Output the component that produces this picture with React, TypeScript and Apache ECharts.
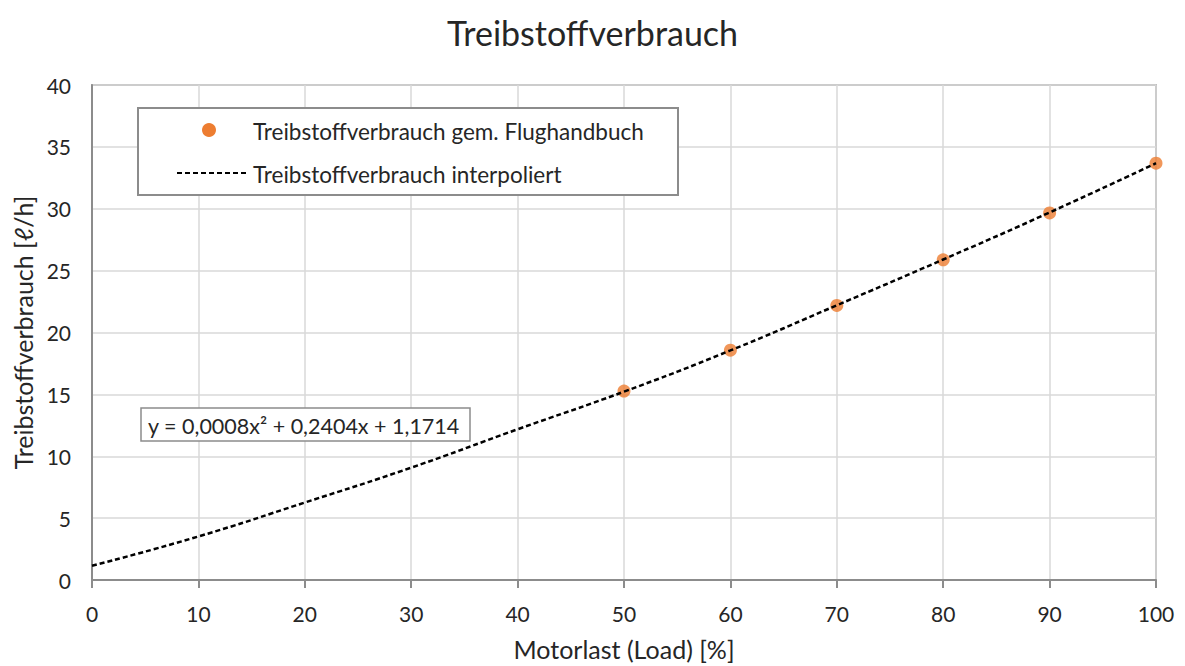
import React, { useEffect, useRef } from "react";
import * as echarts from "echarts";

const title = "Treibstoffverbrauch";
const xAxisName = "Motorlast (Load) [%]";
const yAxisName = "Treibstoffverbrauch [ℓ/h]";
const legendPoints = "Treibstoffverbrauch gem. Flughandbuch";
const legendLine = "Treibstoffverbrauch interpoliert";
const equation = "y = 0,0008x² + 0,2404x + 1,1714";

const handbookLoad = [50, 60, 70, 80, 90, 100];
const handbookFuel = [15.27, 18.57, 22.19, 25.87, 29.66, 33.68];

const curveLoad = [0, 10, 20, 30, 40, 50, 60, 70, 80, 90, 100];
const curveFuel = [1.15, 3.52, 6.26, 9.08, 12.18, 15.22, 18.55, 22.2, 25.9, 29.7, 33.68];

const FONT = "Lato, 'Open Sans', sans-serif";
const TXT = "#262626";

export default function App() {
  const ref = useRef<HTMLDivElement>(null);
  useEffect(() => {
    document.body.style.margin = "0";
    document.body.style.overflow = "hidden";
    if (!ref.current) return;
    const chart = echarts.init(ref.current, undefined, { renderer: "svg" });
    chart.setOption({
      animation: false,
      backgroundColor: "#ffffff",
      textStyle: { fontFamily: FONT },
      title: {
        text: title,
        left: "center",
        top: 10,
        textStyle: { fontFamily: FONT, fontSize: 34, fontWeight: "normal", color: TXT },
      },
      grid: {
        left: 92,
        right: 29,
        top: 85,
        bottom: 85,
        show: true,
        borderColor: "#8c8c8c",
        borderWidth: 1.5,
      },
      xAxis: {
        type: "value",
        min: 0,
        max: 100,
        interval: 10,
        name: xAxisName,
        nameLocation: "middle",
        nameGap: 56,
        nameTextStyle: { fontFamily: FONT, fontSize: 25, color: TXT },
        axisLine: { show: true, lineStyle: { color: "#8c8c8c", width: 2 } },
        axisTick: { show: true, length: 8, lineStyle: { color: "#8c8c8c", width: 2 } },
        axisLabel: { fontFamily: FONT, fontSize: 21, color: TXT, margin: 23 },
        splitLine: { show: true, lineStyle: { color: "#d9d9d9", width: 1.5 } },
      },
      yAxis: {
        type: "value",
        min: 0,
        max: 40,
        interval: 5,
        name: yAxisName,
        nameLocation: "middle",
        nameGap: 54,
        nameTextStyle: { fontFamily: FONT, fontSize: 25, color: TXT },
        axisLine: { show: true, lineStyle: { color: "#8c8c8c", width: 2 } },
        axisTick: { show: false },
        axisLabel: { fontFamily: FONT, fontSize: 21, color: TXT, margin: 21 },
        splitLine: { show: true, lineStyle: { color: "#d9d9d9", width: 1.5 } },
      },
      series: [
        {
          name: legendLine,
          type: "line",
          data: curveLoad.map((x, i) => [x, curveFuel[i]]),
          smooth: true,
          showSymbol: false,
          lineStyle: { color: "#000000", width: 2.5, type: [5, 3] },
          z: 3,
        },
        {
          name: legendPoints,
          type: "scatter",
          data: handbookLoad.map((x, i) => [x, handbookFuel[i]]),
          symbol: "circle",
          symbolSize: 13,
          itemStyle: { color: "#ed7d31" },
          z: 2,
        },
      ],
      graphic: [
        {
          type: "rect",
          shape: { x: 138, y: 108, width: 540, height: 87 },
          style: { fill: "#ffffff", stroke: "#8c8c8c", lineWidth: 2 },
          z: 10,
        },
        {
          type: "circle",
          shape: { cx: 209, cy: 130, r: 7 },
          style: { fill: "#ed7d31" },
          z: 11,
        },
        {
          type: "text",
          x: 253,
          y: 131,
          style: { text: legendPoints, font: `22.5px ${FONT}`, fill: TXT, verticalAlign: "middle" },
          z: 11,
        },
        {
          type: "line",
          shape: { x1: 177, y1: 173, x2: 246, y2: 173 },
          style: { stroke: "#000000", lineWidth: 2, lineDash: [5, 3] },
          z: 11,
        },
        {
          type: "text",
          x: 253,
          y: 174,
          style: { text: legendLine, font: `22.5px ${FONT}`, fill: TXT, verticalAlign: "middle" },
          z: 11,
        },
        {
          type: "rect",
          shape: { x: 141, y: 408, width: 329, height: 33 },
          style: { fill: "#ffffff", stroke: "#8c8c8c", lineWidth: 1.5 },
          z: 10,
        },
        {
          type: "text",
          x: 148,
          y: 426,
          style: { text: equation, font: `21.5px ${FONT}`, fill: TXT, verticalAlign: "middle" },
          z: 11,
        },
      ],
    });
    return () => chart.dispose();
  }, []);
  return <div ref={ref} style={{ width: 1185, height: 666 }} />;
}
